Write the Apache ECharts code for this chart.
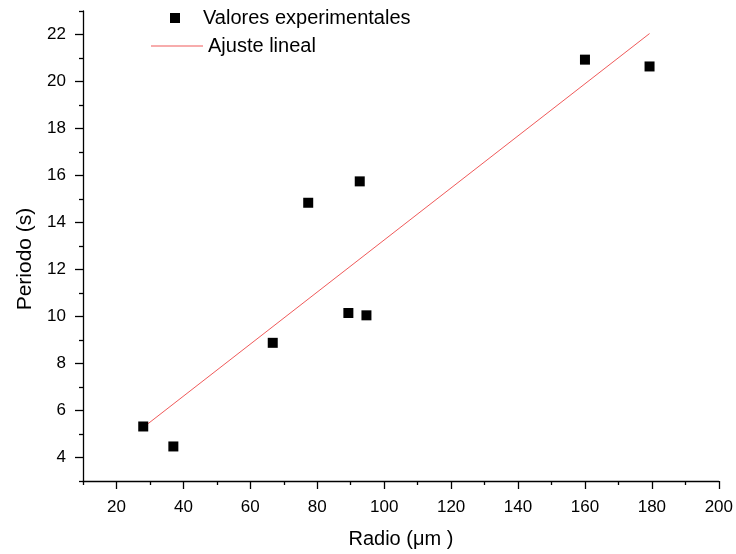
<!DOCTYPE html>
<html>
<head>
<meta charset="utf-8">
<script src="https://cdn.jsdelivr.net/npm/echarts@6/dist/echarts.min.js"></script>
<style>
html,body{margin:0;padding:0;background:#fff;}
#main{width:736px;height:554px;}
</style>
</head>
<body>
<div id="main"></div>
<script>
// datos
var radio = [28, 37, 66.7, 77.3, 89.3, 92.7, 94.7, 160, 179.3];
var periodo = [5.32, 4.47, 8.88, 14.84, 10.15, 15.75, 10.05, 20.93, 20.64];
// ajuste lineal: extremos de la recta
var ajusteX = [28, 179.3];
var ajusteY = [5.28, 22.04];
// marcas de los ejes
var xLabels = [20, 40, 60, 80, 100, 120, 140, 160, 180, 200];
var xMinor = [10, 30, 50, 70, 90, 110, 130, 150, 170, 190];
var yLabels = [4, 6, 8, 10, 12, 14, 16, 18, 20, 22];
var yMinor = [3, 5, 7, 9, 11, 13, 15, 17, 19, 21, 23];

var puntos = radio.map(function(x, i){ return [x, periodo[i]]; });
var recta = ajusteX.map(function(x, i){ return [x, ajusteY[i]]; });

var fuente = 'Liberation Sans, Arial, sans-serif';
var rojo = '#f05a5a';
var mychart = echarts.init(document.getElementById('main'));

var option = {
    animation: false,
    backgroundColor: '#fff',
    textStyle: {fontFamily: fuente, color: '#000'},
    grid: {left: 83, right: 15, top: 11, bottom: 73, containLabel: false},
    legend: [{
        left: 170, top: 8, padding: 0,
        itemWidth: 10, itemHeight: 10,
        data: [{name: 'Valores experimentales', icon: 'rect'}],
        textStyle: {fontSize: 20, color: '#000', fontFamily: fuente, padding: [0, 0, 0, 18]}
    }, {
        left: 151, top: 36, padding: 0,
        itemWidth: 52, itemHeight: 10,
        data: [{name: 'Ajuste lineal', icon: 'path://M0,0L50,0L50,1L0,1Z', itemStyle: {color: rojo}}],
        textStyle: {fontSize: 20, color: '#000', fontFamily: fuente}
    }],
    xAxis: [{
        type: 'value', min: 10, max: 200,
        name: 'Radio (\u03bcm )', nameLocation: 'middle', nameGap: 48,
        nameTextStyle: {fontSize: 20, color: '#000', fontFamily: fuente},
        axisLine: {onZero: false, lineStyle: {color: '#000', width: 1.3}},
        axisTick: {customValues: xLabels, length: 8, lineStyle: {color: '#000', width: 1.3}},
        axisLabel: {customValues: xLabels, fontSize: 17, color: '#000', margin: 18, fontFamily: fuente},
        splitLine: {show: false}
    }, {
        type: 'value', min: 10, max: 200, position: 'bottom', offset: 0,
        axisLine: {show: false},
        axisTick: {customValues: xMinor, length: 4, lineStyle: {color: '#000', width: 1.3}},
        axisLabel: {show: false},
        splitLine: {show: false}
    }],
    yAxis: [{
        type: 'value', min: 3, max: 23,
        name: 'Periodo (s)', nameLocation: 'middle', nameGap: 46,
        nameTextStyle: {fontSize: 21, color: '#000', fontFamily: fuente, padding: [0, 26, 0, 0]},
        axisLine: {onZero: false, lineStyle: {color: '#000', width: 1.3}},
        axisTick: {customValues: yLabels, length: 8, lineStyle: {color: '#000', width: 1.3}},
        axisLabel: {customValues: yLabels, fontSize: 17, color: '#000', margin: 17, fontFamily: fuente},
        splitLine: {show: false}
    }, {
        type: 'value', min: 3, max: 23, position: 'left', offset: 0,
        axisLine: {show: false},
        axisTick: {customValues: yMinor, length: 4, lineStyle: {color: '#000', width: 1.3}},
        axisLabel: {show: false},
        splitLine: {show: false}
    }],
    series: [{
        name: 'Valores experimentales',
        type: 'scatter',
        symbol: 'rect', symbolSize: 10,
        itemStyle: {color: '#000', opacity: 1},
        data: puntos,
        z: 3
    }, {
        name: 'Ajuste lineal',
        type: 'line',
        showSymbol: false, symbol: 'none',
        itemStyle: {color: rojo},
        lineStyle: {color: rojo, width: 1},
        data: recta,
        z: 2
    }]
};
mychart.setOption(option);
</script>
</body>
</html>
